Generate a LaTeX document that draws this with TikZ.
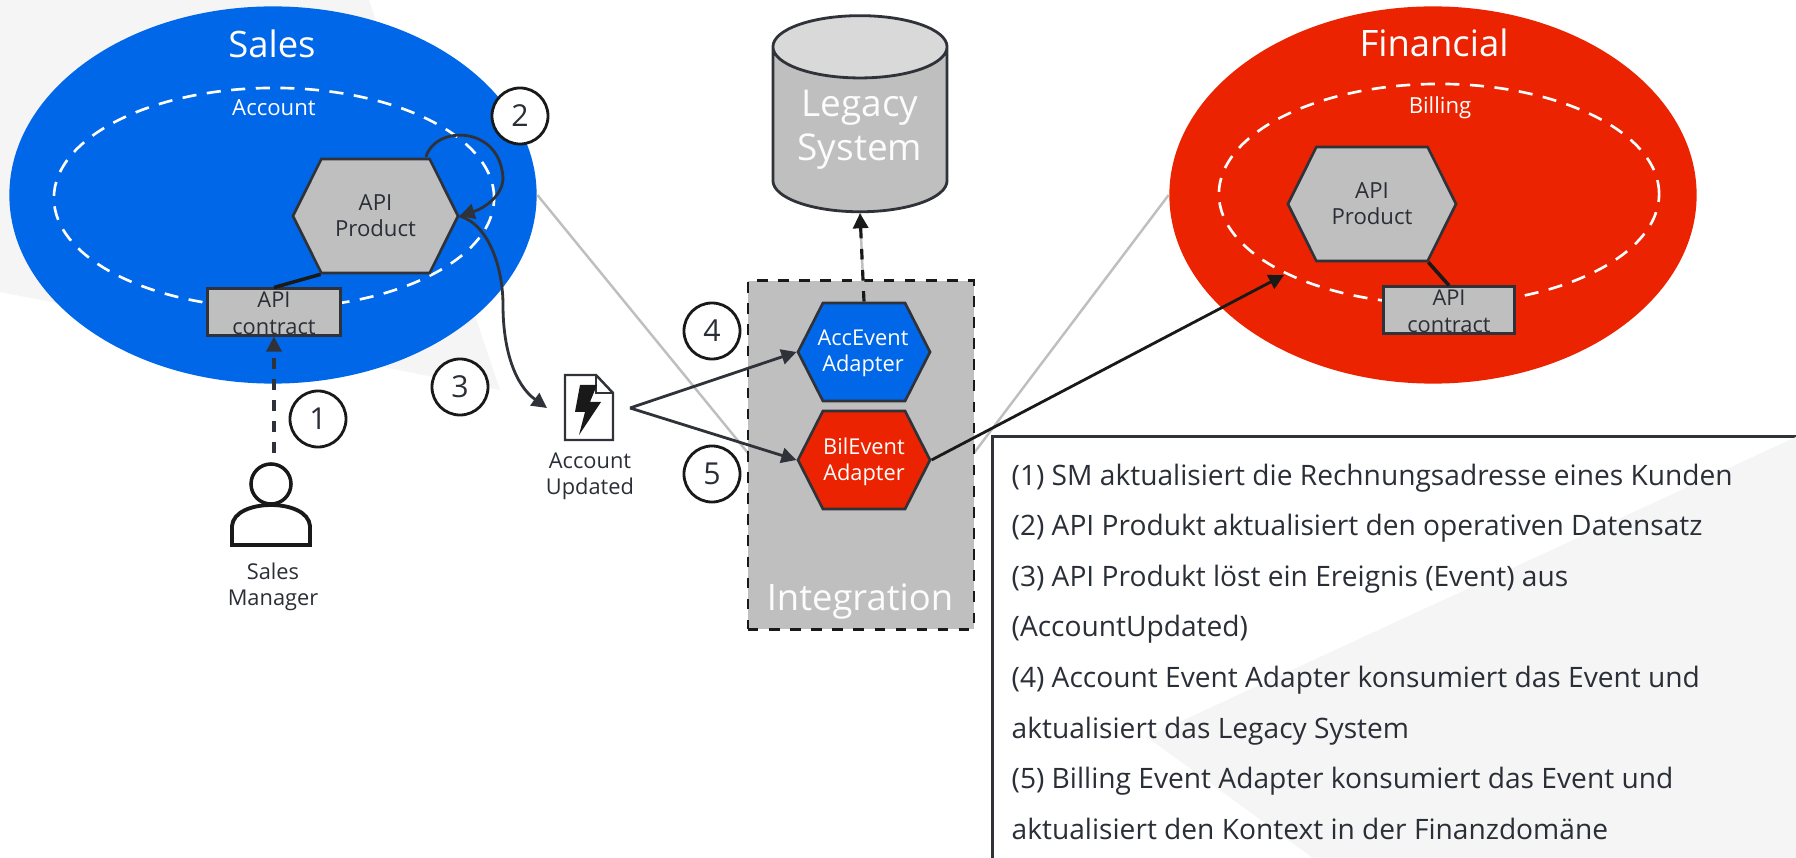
\documentclass[tikz,border=0pt]{standalone}
\usepackage{fontspec}
\setmainfont{Open Sans}
\usetikzlibrary{arrows.meta,shapes.geometric,shapes.symbols}

\definecolor{salesblue}{HTML}{0067E8}
\definecolor{financered}{HTML}{EB2300}
\definecolor{boxgray}{HTML}{BFBFBF}
\definecolor{topgray}{HTML}{D9D9D9}
\definecolor{wmgray}{HTML}{F5F5F5}
\definecolor{darkline}{HTML}{30323A}
\definecolor{darktext}{HTML}{2A2E36}

\tikzset{
  domainarea/.style={ellipse,inner sep=0pt},
  context/.style={ellipse,draw=white,line width=0.75pt,dash pattern=on 4pt off 3pt,inner sep=0pt,minimum width=4.4cm,minimum height=2.2cm},
  hexnode/.style={signal,signal to=east and west,draw=darkline,line width=0.75pt,inner sep=0pt,align=center},
  apihex/.style={hexnode,fill=boxgray,text=darktext,minimum height=1.14cm,signal pointer angle=127,font=\fontsize{6.3}{7.4}\selectfont},
  adapterhex/.style={hexnode,minimum width=1.32cm,minimum height=0.98cm,signal pointer angle=126},
  adaptertext/.style={text=white,inner sep=0pt,align=center,font=\fontsize{6.2}{7.5}\selectfont},
  contractbox/.style={rectangle,draw=darkline,fill=boxgray,line width=0.85pt,minimum height=0.46cm,inner sep=0pt},
  contracttext/.style={align=center,text=darktext,inner sep=0pt,font=\fontsize{6.2}{7.6}\selectfont},
  numcircle/.style={circle,draw=black!90,fill=white,line width=0.8pt,minimum size=0.56cm,inner sep=0pt,text=darktext,font=\fontsize{8.6}{10}\selectfont},
  bigtitle/.style={text=white,inner sep=0pt,align=center,font=\fontsize{10.35}{12}\selectfont},
  smalltitle/.style={text=white,inner sep=0pt,font=\fontsize{6.3}{7}\selectfont},
  iconlabel/.style={text=darktext,inner sep=0pt,align=center,font=\fontsize{6.2}{7.3}\selectfont},
  flow/.style={draw=darkline,line width=0.8pt,-{Triangle[length=4.3pt,width=4.3pt]}},
  greyline/.style={draw=boxgray,line width=0.7pt},
}

\begin{document}
\begin{tikzpicture}[x=0.01cm,y=-0.01cm]
  \useasboundingbox (0,0) rectangle (1796,858);

  % watermark behind the left domain
  \fill[wmgray] (0,0) -- (369,0) -- (500,390) -- (0,292) -- cycle;

  % free ends of the links
  \coordinate (intleft) at (748,453);
  \coordinate (intright) at (974,453);
  \coordinate (selfstart) at (426,157);
  \coordinate (eventin) at (547,408);
  \coordinate (eventout) at (630,408);
  \coordinate (managertop) at (274,453);
  \coordinate (billingin) at (1284,275);

  \node[domainarea,fill=salesblue,minimum width=5.27cm,minimum height=3.77cm] (sales) at (273,195) {};
  \node[domainarea,fill=financered,minimum width=5.27cm,minimum height=3.77cm] (financial) at (1433,195) {};

  \draw[greyline] (sales.east) -- (intleft);
  \draw[greyline] (financial.west) -- (intright);

  \node[bigtitle] (salestitle) at (272,44) {Sales};
  \node[bigtitle] (financialtitle) at (1434,43) {Financial};

  \node[context] (account) at (274,198) {};
  \node[context] (billing) at (1439,194) {};
  \node[smalltitle] (accounttitle) at (274,108) {Account};
  \node[smalltitle] (billingtitle) at (1440,108) {Billing};

  \node[apihex,minimum width=1.65cm] (salesapi) at (375.5,216) {API\\Product};
  \node[apihex,minimum width=1.68cm] (finapi) at (1372,204) {API\\Product};

  \node[contractbox,minimum width=1.32cm] (salescontract) at (274,312) {};
  \node[contractbox,minimum width=1.30cm] (fincontract) at (1449,310) {};
  \node[contracttext] (salescontracttext) at (274,313) {API\\contract};
  \node[contracttext] (fincontracttext) at (1449,311) {API\\contract};

  \draw[line width=1pt,black!90] (salesapi.south west) -- (salescontract.north);
  \draw[line width=1pt,black!90] (finapi.south east) -- (fincontract.north);

  % legacy system
  \node[cylinder,shape border rotate=90,shape aspect=0.5,draw=darkline,line width=0.8pt,cylinder uses custom fill,cylinder body fill=boxgray,cylinder end fill=topgray,minimum width=1.74cm,minimum height=1.96cm,inner sep=0pt,text=white!95!boxgray,align=center,font=\fontsize{10.5}{12.4}\selectfont] (legacy) at (860,130) {Legacy\\System};

  % integration box
  \node[rectangle,draw=black!90,fill=boxgray,dashed,line width=0.8pt,minimum width=2.26cm,minimum height=3.48cm,inner sep=0pt] (integration) at (861,455) {};
  \node[bigtitle,text=white!95!boxgray] (integrationtitle) at (860,602) {Integration};

  \node[adapterhex,fill=salesblue] (accevent) at (864,352) {};
  \node[adapterhex,fill=financered] (bilevent) at (864,460) {};
  \node[adaptertext] (acceventtext) at (863,353) {AccEvent\\Adapter};
  \node[adaptertext] (bileventtext) at (864,462) {BilEvent\\Adapter};

  \draw[greyline] (accevent.north) -- (legacy.south);
  \draw[flow,draw=black!90,dashed,line width=0.9pt] (accevent.north) -- (legacy.south);

  % event document
  \draw[darkline,line width=0.7pt,fill=white] (565,375) -- (596,375) -- (613,393) -- (613,440) -- (565,440) -- cycle;
  \draw[darkline,line width=0.7pt] (596,375) -- (596,393) -- (613,393);
  \fill[black!90] (580,385) -- (597,385) -- (590,402) -- (601,402) -- (579,435) -- (585,412) -- (575,412) -- cycle;
  \node[iconlabel] (eventlabel) at (590,476) {Account\\Updated};

  % manager
  \draw[black!90,line width=1pt] (271,484) circle [radius=0.2cm];
  \draw[black!90,line width=1.1pt] (232,545) -- (232,526) .. controls (234,498) and (308,498) .. (310,526) -- (310,545) -- cycle;
  \node[iconlabel] (managerlabel) at (273,587) {Sales\\Manager};

  % links
  \draw[flow,dashed,line width=0.9pt] (managertop) -- (salescontract.south);
  \draw[flow] (selfstart) .. controls (435,125) and (500,125) .. (503,178) .. controls (503,195) and (485,208) .. (salesapi.east);
  \draw[flow] (salesapi.east) .. controls (490,225) and (503,270) .. (503,305) .. controls (503,350) and (515,385) .. (eventin);
  \draw[flow] (eventout) -- (accevent.west);
  \draw[flow] (eventout) -- (bilevent.west);
  \draw[flow,draw=black!90] (bilevent.east) -- (billingin);

  \foreach \n/\px/\py in {1/318/419, 2/520/116, 3/460/387, 4/712/331, 5/712/474}
    \node[numcircle] (step\n) at (\px,\py) {\n};

  % legend
  \node[rectangle,draw=darkline,fill=white,line width=0.8pt,anchor=north west,minimum width=8.4cm,minimum height=4.6cm,inner sep=0pt] (legendbox) at (991,435.5) {};
  \fill[wmgray] (1796,437) -- (1147,737) -- (1313,858) -- (1796,858) -- cycle;
  \node[anchor=north west,inner sep=0pt,align=left,text=darktext,font=\fontsize{8}{14.4}\selectfont] (legendtext) at (1011,463) {%
    (1) SM aktualisiert die Rechnungsadresse eines Kunden\\
    (2) API Produkt aktualisiert den operativen Datensatz\\
    (3) API Produkt löst ein Ereignis (Event) aus\\
    (AccountUpdated)\\
    (4) Account Event Adapter konsumiert das Event und\\
    aktualisiert das Legacy System\\
    (5) Billing Event Adapter konsumiert das Event und\\
    aktualisiert den Kontext in der Finanzdomäne};
\end{tikzpicture}
\end{document}
